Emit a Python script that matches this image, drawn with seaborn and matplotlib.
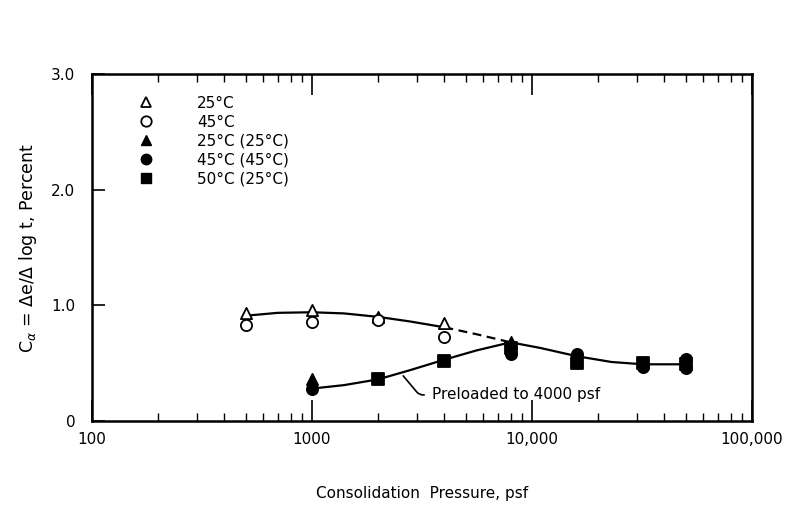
import matplotlib
matplotlib.use("Agg")
import matplotlib.pyplot as plt
import numpy as np
import seaborn as sns
from matplotlib.lines import Line2D
from matplotlib.ticker import LogLocator, FixedLocator, NullFormatter

open_tri_p = [500, 1000, 2000, 4000]
open_tri_ca = [0.93, 0.96, 0.90, 0.85]
open_circ_p = [500, 1000, 2000, 4000]
open_circ_ca = [0.83, 0.86, 0.87, 0.73]
solid_tri_p = [1000, 8000]
solid_tri_ca = [0.36, 0.68]
solid_circ_p = [1000, 8000, 16000, 32000, 50000, 50000]
solid_circ_ca = [0.28, 0.58, 0.58, 0.47, 0.54, 0.46]
square_p = [2000, 4000, 8000, 16000, 32000, 50000]
square_ca = [0.36, 0.52, 0.63, 0.50, 0.50, 0.49]

# hand drawn curves
upper_p = [500, 700, 1000, 1400, 2000, 2800, 4000]
upper_ca = [0.91, 0.935, 0.94, 0.93, 0.90, 0.86, 0.81]
dash_p = [4000, 5600, 8000]
dash_ca = [0.81, 0.75, 0.68]
lower_p = [1000, 1400, 2000, 2800, 4000, 5600, 8000, 11000, 16000, 23000, 32000, 50000]
lower_ca = [0.28, 0.31, 0.36, 0.44, 0.53, 0.61, 0.68, 0.63, 0.56, 0.51, 0.49, 0.49]

legend_labels = ["25\u00b0C", "45\u00b0C", "25\u00b0C (25\u00b0C)", "45\u00b0C (45\u00b0C)", "50\u00b0C (25\u00b0C)"]

sns.set_style("ticks", {"axes.edgecolor": "black", "text.color": "black",
                        "axes.labelcolor": "black", "xtick.color": "black",
                        "ytick.color": "black"})
plt.rcParams['font.family'] = ['DejaVu Sans']

fig = plt.figure(figsize=(7.97, 5.14), dpi=100)
ax = fig.add_axes([0.1154, 0.181, 0.828, 0.675])

# curves
sns.lineplot(x=upper_p, y=upper_ca, ax=ax, color="black", lw=1.6, sort=False)
sns.lineplot(x=dash_p, y=dash_ca, ax=ax, color="black", lw=1.6, sort=False, linestyle=(0, (4, 2.5)))
sns.lineplot(x=lower_p, y=lower_ca, ax=ax, color="black", lw=1.6, sort=False)

# points
series = [
    (open_tri_p, open_tri_ca, "^", "white"),
    (open_circ_p, open_circ_ca, "o", "white"),
    (solid_tri_p, solid_tri_ca, "^", "black"),
    (solid_circ_p, solid_circ_ca, "o", "black"),
    (square_p, square_ca, "s", "black"),
]
for px, py, mk, fc in series:
    sns.scatterplot(x=px, y=py, ax=ax, marker=mk, s=65, facecolor=fc,
                    edgecolor="black", linewidth=1.3, zorder=3)

ax.set_xscale("log")
ax.set_xlim(100, 100000)
ax.set_ylim(0, 3.0)

ax.xaxis.set_major_locator(FixedLocator([100, 1000, 10000, 100000]))
ax.set_xticklabels(["100", "1000", "10,000", "100,000"])
ax.xaxis.set_minor_locator(LogLocator(base=10, subs=np.arange(2, 10)))
ax.xaxis.set_minor_formatter(NullFormatter())
ax.set_yticks([0, 1.0, 2.0, 3.0])
ax.set_yticklabels(["0", "1.0", "2.0", "3.0"])

ax.tick_params(axis="x", which="major", direction="in", length=15, width=1.2,
               top=True, bottom=True, labelsize=11, pad=8)
ax.tick_params(axis="x", which="minor", direction="in", length=6, width=1.0,
               top=True, bottom=True)
ax.tick_params(axis="y", which="major", direction="in", length=9, width=1.2,
               left=True, right=False, labelsize=11, pad=12)
for sp in ax.spines.values():
    sp.set_linewidth(1.8)

ax.set_xlabel("Consolidation  Pressure, psf", fontsize=11, labelpad=28)
ax.set_ylabel("C$_\\alpha$ = \u0394e/\u0394 log t, Percent", fontsize=12.5, labelpad=9)

# annotation for the preloaded curve
ax.annotate("Preloaded to 4000 psf", xy=(2600, 0.39), xytext=(3500, 0.225),
            fontsize=11, va="center", ha="left",
            arrowprops=dict(arrowstyle="-", color="black", lw=1.2,
                            connectionstyle="angle,angleA=0,angleB=-50,rad=4",
                            shrinkA=3, shrinkB=0))

# legend
handles = [
    Line2D([], [], ls="none", marker="^", ms=7.5, mfc="white", mec="black", mew=1.3),
    Line2D([], [], ls="none", marker="o", ms=7.5, mfc="white", mec="black", mew=1.3),
    Line2D([], [], ls="none", marker="^", ms=7.5, mfc="black", mec="black"),
    Line2D([], [], ls="none", marker="o", ms=7.5, mfc="black", mec="black"),
    Line2D([], [], ls="none", marker="s", ms=7.5, mfc="black", mec="black"),
]
ax.legend(handles, legend_labels, loc="upper left", bbox_to_anchor=(0.05, 0.955),
          frameon=False, fontsize=11, handletextpad=2.3, labelspacing=0.26,
          borderaxespad=0)

fig.savefig("out.png", dpi=100)
